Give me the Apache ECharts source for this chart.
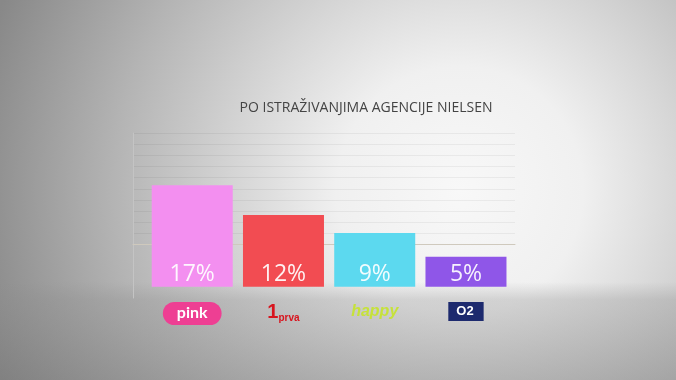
<!DOCTYPE html>
<html>
<head>
<meta charset="utf-8">
<script src="https://cdn.jsdelivr.net/npm/echarts@6/dist/echarts.min.js"></script>
<style>html,body{margin:0;padding:0;background:#ddd}#c{width:676px;height:380px}</style>
</head>
<body>
<div id="c"></div>
<script>
// ---- data ----
const channels = ['pink', 'prva', 'happy', 'O2'];
const shares = [17, 12, 9, 5];
const shareLabels = ['17%', '12%', '9%', '5%'];
const barColors = ['#f38ff0', '#f24c52', '#5cd9ef', '#8f56e8'];
const titleText = 'PO ISTRAŽIVANJIMA AGENCIJE NIELSEN';
const gridLineTicks = [0, 1, 2, 3, 4, 5, 6, 7, 8, 9, 10];

const chart = echarts.init(document.getElementById('c'), null, {renderer: 'canvas'});

const logoRich = {
  pink: {color: '#fff', backgroundColor: '#ee3f93', fontFamily: 'Lato', fontWeight: 'bold', fontSize: 16, padding: [3, 14, 4, 14], borderRadius: 12},
  one: {color: '#d8151f', fontFamily: 'Liberation Sans', fontWeight: 'bold', fontSize: 20, padding: [0, 0, 6, 0]},
  prva: {color: '#d8151f', fontFamily: 'Liberation Sans', fontWeight: 'bold', fontSize: 10, padding: [6, 0, 0, 0]},
  happy: {color: '#c6e23a', fontFamily: 'Liberation Sans', fontWeight: 'bold', fontStyle: 'italic', fontSize: 16, padding: [2, 0, 0, 0]},
  o2: {color: '#fff', backgroundColor: '#1d2a6e', fontFamily: 'Liberation Sans', fontWeight: 'bold', fontSize: 13, padding: [3, 10, 3, 8]}
};

chart.setOption({
  backgroundColor: {
    type: 'radial', x: 0.68, y: 0.5, r: 1.3,
    colorStops: [
      {offset: 0, color: '#f8f8f8'},
      {offset: 0.25, color: '#f0f0f0'},
      {offset: 0.45, color: '#d6d6d6'},
      {offset: 0.7, color: '#b4b4b4'},
      {offset: 1, color: '#888888'}
    ]
  },
  animation: false,
  graphic: [{
    type: 'rect', silent: true, z: -1,
    shape: {x: 0, y: 282, width: 676, height: 98},
    style: {fill: {type: 'linear', x: 0, y: 0, x2: 0, y2: 1, colorStops: [
      {offset: 0, color: 'rgba(140,140,140,0)'},
      {offset: 0.18, color: 'rgba(140,140,140,0.3)'},
      {offset: 1, color: 'rgba(120,120,120,0.42)'}
    ]}}
  }],
  title: {
    text: titleText, left: 361, top: 96, textAlign: 'center',
    textStyle: {fontFamily: 'Open Sans', fontWeight: 'normal', fontSize: 14, color: '#444444'}
  },
  grid: [
    {left: 146.6, width: 365, top: 133, height: 165},
    {left: 133, width: 382, top: 133.3, height: 111}
  ],
  xAxis: [
    {
      type: 'category', gridIndex: 0, data: channels,
      axisLine: {show: false, onZero: false}, axisTick: {show: false},
      axisLabel: {
        margin: 4, verticalAlign: 'top', interval: 0, hideOverlap: false,
        formatter: function (v) {
          if (v === 'pink') return '{pink|pink}';
          if (v === 'prva') return '{one|1}{prva|prva}';
          if (v === 'happy') return '{happy|happy}';
          return '{o2|O2}';
        },
        rich: logoRich
      }
    },
    {
      type: 'value', gridIndex: 1, show: true, min: 0, max: 1,
      axisLine: {show: true, onZero: false, lineStyle: {color: '#cfc9bd', width: 1}},
      axisTick: {show: false}, axisLabel: {show: false}, splitLine: {show: false}
    }
  ],
  yAxis: [
    {
      type: 'value', gridIndex: 0, min: -1.9, max: 25.75, offset: 13.6,
      axisLine: {show: true, lineStyle: {color: '#c4c4c4', width: 1}},
      axisTick: {show: false}, axisLabel: {show: false}, splitLine: {show: false}
    },
    {
      type: 'value', gridIndex: 1, min: gridLineTicks[0], max: gridLineTicks[gridLineTicks.length - 1], interval: 1,
      axisLine: {show: false}, axisTick: {show: false}, axisLabel: {show: false},
      splitLine: {show: true, lineStyle: {color: 'rgba(0,0,0,0.05)', width: 1}}
    }
  ],
  series: [{
    type: 'bar', xAxisIndex: 0, yAxisIndex: 0,
    barWidth: 81,
    data: shares.map((v, i) => ({value: v, itemStyle: {color: barColors[i]}})),
    label: {
      show: true, position: 'insideBottom', distance: 1,
      formatter: p => shareLabels[p.dataIndex],
      color: 'rgba(255,255,255,0.92)', fontFamily: 'Open Sans', fontSize: 23
    }
  }]
});
</script>
</body>
</html>
